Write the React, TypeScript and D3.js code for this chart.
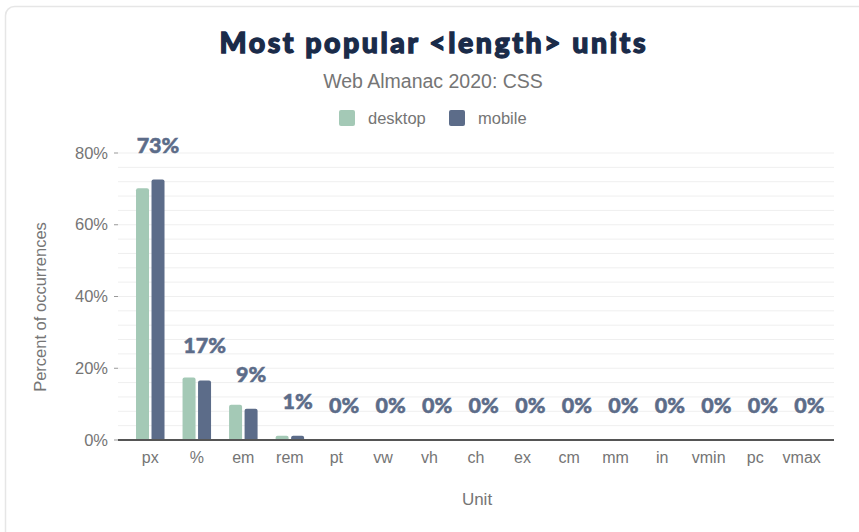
import React from "react";
import * as d3 from "d3";

const units = ["px", "%", "em", "rem", "pt", "vw", "vh", "ch", "ex", "cm", "mm", "in", "vmin", "pc", "vmax"];
const desktopValues = [70.2, 17.4, 9.8, 1.2, 0, 0, 0, 0, 0, 0, 0, 0, 0, 0, 0];
const mobileValues = [72.6, 16.6, 8.7, 1.2, 0, 0, 0, 0, 0, 0, 0, 0, 0, 0, 0];
const yTicks = [0, 20, 40, 60, 80];
const gridValues = d3.range(0, 81, 4);
const seriesNames = ["desktop", "mobile"];
const seriesColors = ["#a4c9b6", "#5c6c89"];

const W = 859;
const H = 532;

export default function App() {
  const x = d3.scaleBand<string>().domain(units).range([127, 825]).padding(0);
  const y = d3.scaleLinear().domain([0, 80]).range([440, 153]);
  const barW = 13;
  const gap = 2.5;
  const axisFont = "'Liberation Sans', Arial, sans-serif";

  const barPath = (x0: number, y0: number, w: number, h: number) => {
    if (h <= 0) return "";
    const r = Math.min(2, h, w / 2);
    return `M${x0},${y0 + h}V${y0 + r}Q${x0},${y0} ${x0 + r},${y0}H${x0 + w - r}Q${x0 + w},${y0} ${x0 + w},${y0 + r}V${y0 + h}Z`;
  };

  return (
    <svg width={W} height={H} style={{ position: "absolute", left: 0, top: 0, background: "#fff" }}>
      <rect x={5.5} y={6.5} width={W + 20} height={H + 20} rx={9} fill="#fff" stroke="#e6e6e6" strokeWidth={1.5} />
      <text x={432.5} y={53} textAnchor="middle" fontFamily="Lato, 'Open Sans', sans-serif" fontWeight={900} fontSize={28.5}
        fill="#1a2b49" stroke="#1a2b49" strokeWidth={1.3} textLength={426} lengthAdjust="spacing">
        Most popular &lt;length&gt; units
      </text>
      <text x={433} y={88} textAnchor="middle" fontFamily={axisFont} fontSize={19.5} fill="#757575">
        Web Almanac 2020: CSS
      </text>
      {seriesNames.map((s, i) => {
        const lx = i === 0 ? 339 : 449;
        return (
          <g key={s}>
            <rect x={lx} y={110} width={16} height={16} rx={2} fill={seriesColors[i]} />
            <text x={lx + 29} y={124} fontFamily={axisFont} fontSize={16.5} fill="#757575">{s}</text>
          </g>
        );
      })}
      {gridValues.map((g) => (
        <line key={g} x1={118} x2={834} y1={y(g)} y2={y(g)} stroke="#efefef" strokeWidth={1} />
      ))}
      {yTicks.map((t) => (
        <g key={t}>
          <line x1={114} x2={118} y1={y(t)} y2={y(t)} stroke="#999" strokeWidth={1} />
          <text x={108} y={y(t) + 5.5} textAnchor="end" fontFamily={axisFont} fontSize={16.5} fill="#757575">{t}%</text>
        </g>
      ))}
      <text transform={`translate(46,307) rotate(-90)`} textAnchor="middle" fontFamily={axisFont} fontSize={16.5} fill="#757575">
        Percent of occurrences
      </text>
      {units.map((u, i) => {
        const cx = (x(u) as number) + x.bandwidth() / 2;
        const dv = desktopValues[i];
        const mv = mobileValues[i];
        return (
          <g key={u}>
            <path d={barPath(cx - gap / 2 - barW, y(dv), barW, y(0) - y(dv))} fill={seriesColors[0]} />
            <path d={barPath(cx + gap / 2, y(mv), barW, y(0) - y(mv))} fill={seriesColors[1]} />
            <text x={cx + gap / 2 + barW / 2} y={y(mv) - 27} textAnchor="middle" fontFamily="Lato, 'Open Sans', sans-serif"
              fontWeight={900} fontSize={21.5} fill="#5c6c89" stroke="#5c6c89" strokeWidth={0.5}>
              {Math.round(mv)}%
            </text>
            <text x={cx} y={463} textAnchor="middle" fontFamily={axisFont} fontSize={16} fill="#757575">{u}</text>
          </g>
        );
      })}
      <line x1={118} x2={834} y1={y(0)} y2={y(0)} stroke="#555" strokeWidth={2} />
      <text x={477} y={505} textAnchor="middle" fontFamily={axisFont} fontSize={17} fill="#757575">Unit</text>
    </svg>
  );
}
